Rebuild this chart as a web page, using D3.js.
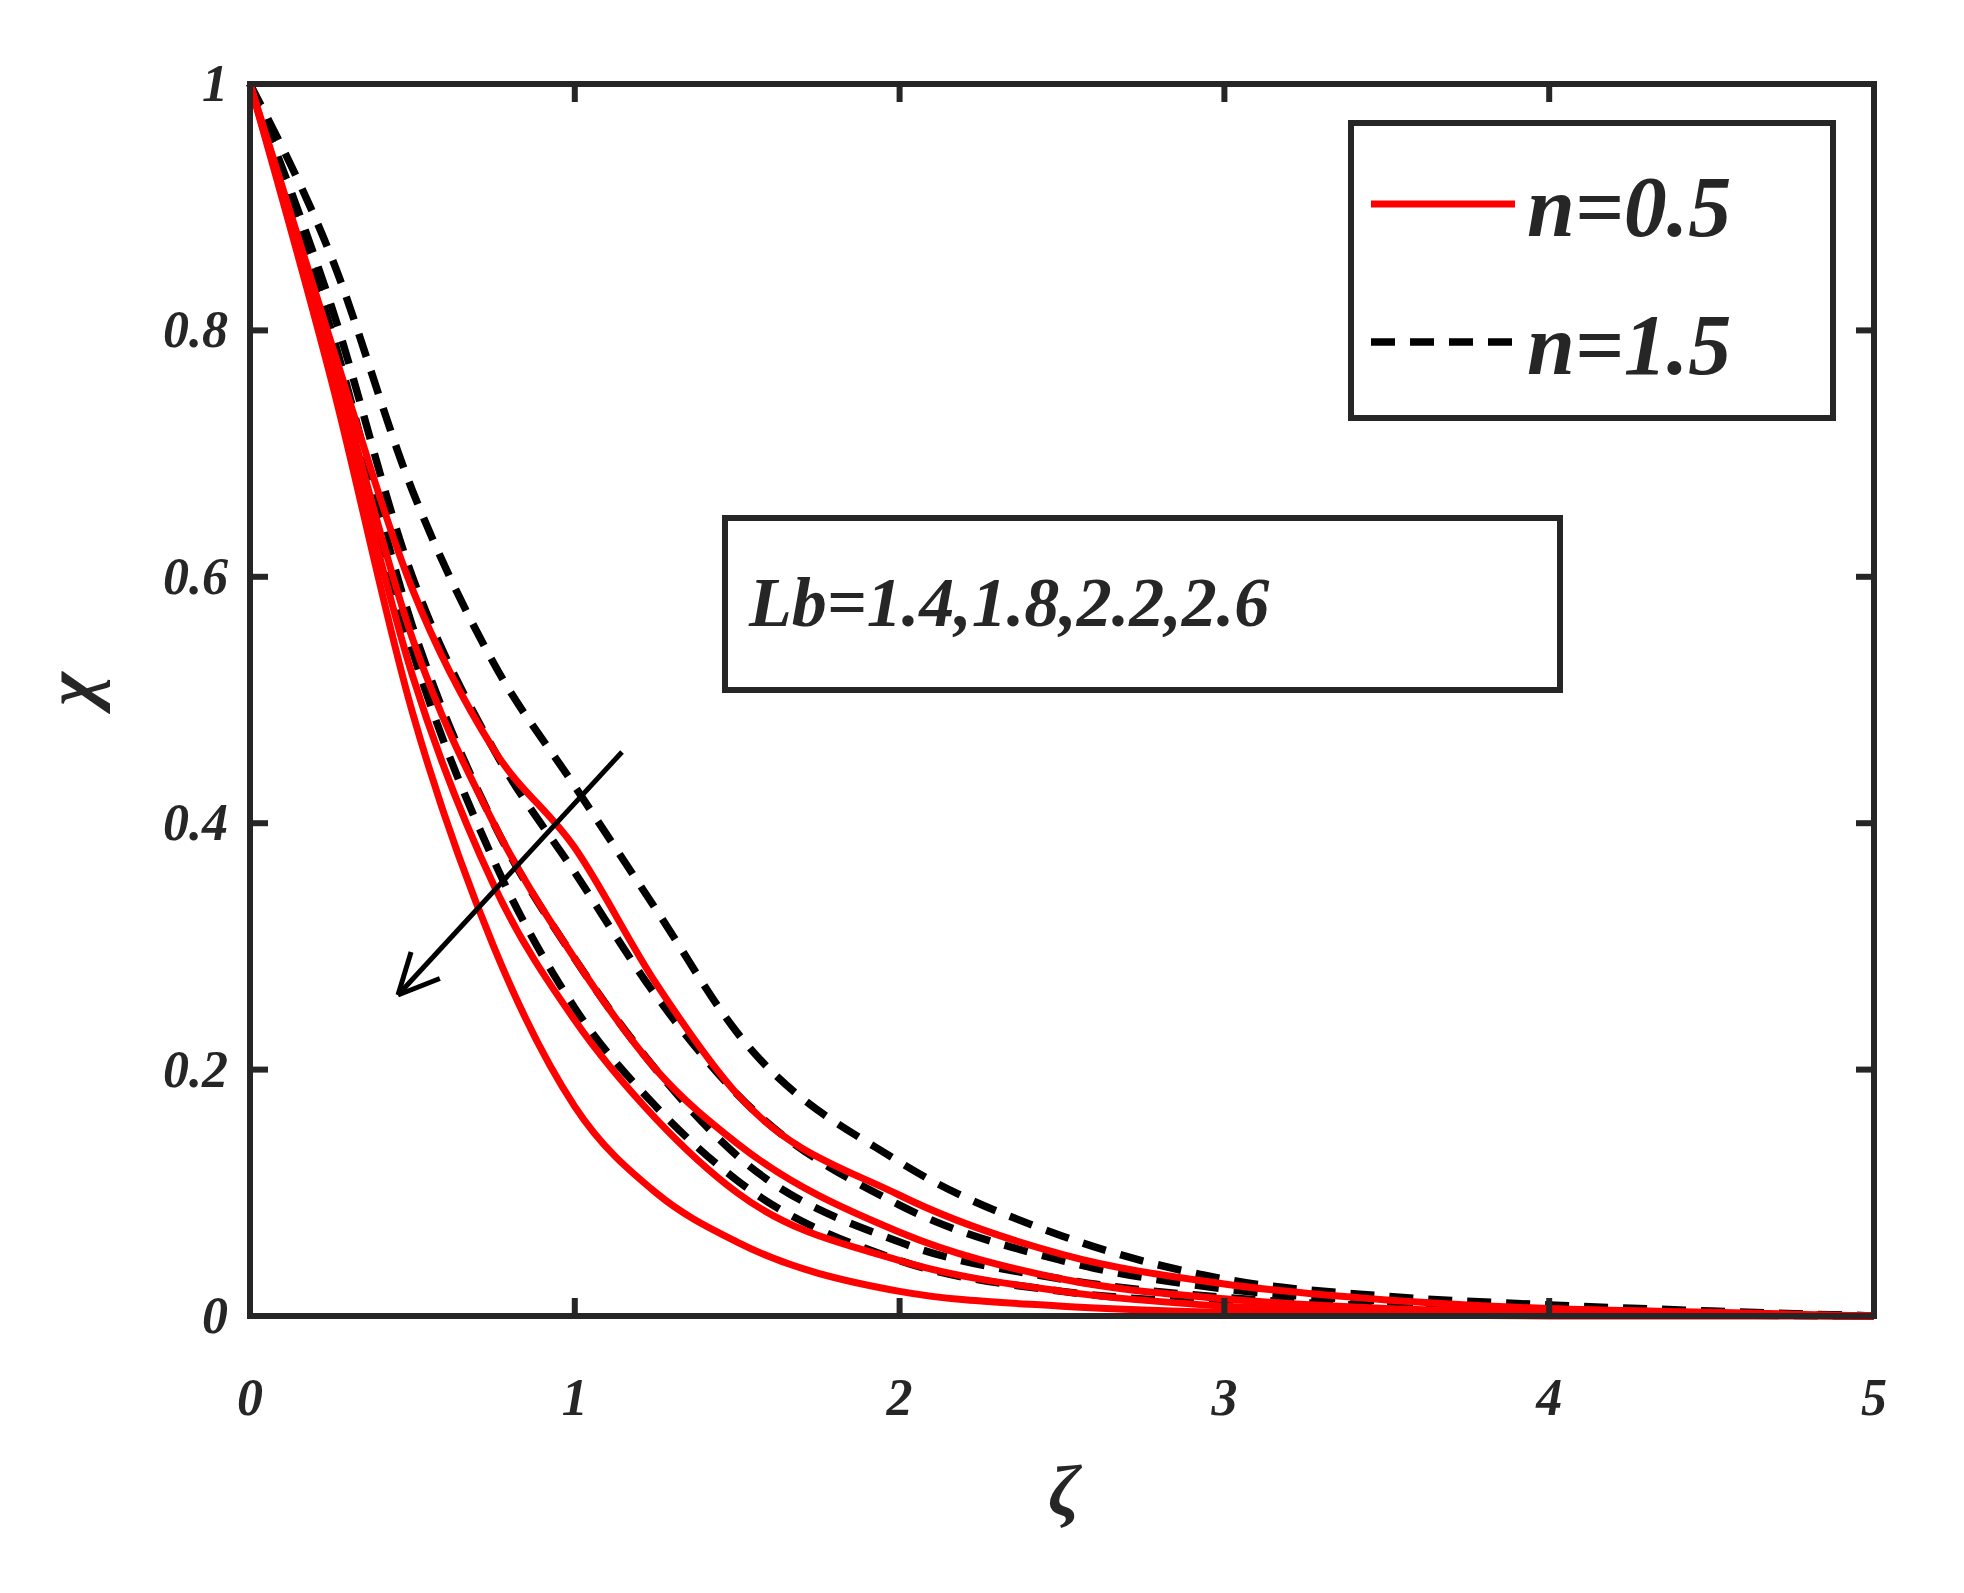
<!DOCTYPE html>
<html><head><meta charset="utf-8">
<script src="https://cdn.jsdelivr.net/npm/d3@7"></script>
<style>body{margin:0;background:#fff}text{font-family:"Liberation Serif","DejaVu Serif",serif;font-weight:bold;font-style:italic;fill:#262626}</style>
</head><body><svg id="c" width="1964" height="1593"></svg>
<script>
const zeta = [0, 0.25, 0.5, 0.75, 1, 1.25, 1.5, 2, 2.5, 3, 3.5, 4, 4.5, 5]
// n=0.5, Lb = 1.4, 1.8, 2.2, 2.6
const red = [
  [1, 0.79, 0.59, 0.46, 0.38, 0.27, 0.18, 0.098, 0.05, 0.026, 0.013, 0.006, 0.003, 0],
  [1, 0.78, 0.55, 0.40, 0.29, 0.20, 0.14, 0.068, 0.03, 0.014, 0.006, 0.003, 0.001, 0],
  [1, 0.77, 0.52, 0.35, 0.24, 0.16, 0.10, 0.045, 0.02, 0.008, 0.004, 0.002, 0.001, 0],
  [1, 0.76, 0.49, 0.30, 0.17, 0.10, 0.06, 0.02, 0.008, 0.003, 0.001, 0, 0, 0]
]
// n=1.5
const black = [
  [1, 0.86, 0.67, 0.53, 0.43, 0.33, 0.23, 0.125, 0.065, 0.03, 0.016, 0.009, 0.004, 0],
  [1, 0.82, 0.60, 0.46, 0.36, 0.26, 0.18, 0.09, 0.045, 0.022, 0.012, 0.006, 0.003, 0],
  [1, 0.80, 0.56, 0.40, 0.29, 0.20, 0.13, 0.06, 0.03, 0.015, 0.008, 0.005, 0.002, 0],
  [1, 0.79, 0.54, 0.37, 0.25, 0.17, 0.11, 0.045, 0.02, 0.01, 0.005, 0.003, 0.001, 0]
]
const xTicks = [0, 1, 2, 3, 4, 5]
const yTicks = [0, 0.2, 0.4, 0.6, 0.8, 1]

const svg = d3.select('#c')
const L = 250, R = 1874, T = 84, B = 1316
const x = d3.scaleLinear().domain([0, 5]).range([L, R])
const y = d3.scaleLinear().domain([0, 1]).range([B, T])
const line = d3.line().x((d, i) => x(zeta[i])).y(d => y(d)).curve(d3.curveMonotoneX)

const plot = svg.append('g')
black.forEach(s => plot.append('path').attr('d', line(s)).attr('fill', 'none')
  .attr('stroke', '#000').attr('stroke-width', 7.5).attr('stroke-dasharray', '24,15'))
red.forEach(s => plot.append('path').attr('d', line(s)).attr('fill', 'none')
  .attr('stroke', '#ff0000').attr('stroke-width', 7))

// frame + ticks
const ax = '#262626'
svg.append('rect').attr('x', L).attr('y', T).attr('width', R - L).attr('height', B - T)
  .attr('fill', 'none').attr('stroke', ax).attr('stroke-width', 6)
const tk = 18
xTicks.forEach(t => {
  svg.append('line').attr('x1', x(t)).attr('x2', x(t)).attr('y1', B).attr('y2', B - tk).attr('stroke', ax).attr('stroke-width', 6)
  svg.append('line').attr('x1', x(t)).attr('x2', x(t)).attr('y1', T).attr('y2', T + tk).attr('stroke', ax).attr('stroke-width', 6)
  svg.append('text').attr('x', x(t)).attr('y', 1415).attr('text-anchor', 'middle').attr('font-size', 52).text(t)
})
yTicks.forEach(t => {
  svg.append('line').attr('x1', L).attr('x2', L + tk).attr('y1', y(t)).attr('y2', y(t)).attr('stroke', ax).attr('stroke-width', 6)
  svg.append('line').attr('x1', R).attr('x2', R - tk).attr('y1', y(t)).attr('y2', y(t)).attr('stroke', ax).attr('stroke-width', 6)
  svg.append('text').attr('x', 228).attr('y', y(t) + 17).attr('text-anchor', 'end').attr('font-size', 52).text(t)
})
svg.append('text').attr('transform', 'translate(95,689) rotate(-90)').attr('text-anchor', 'middle').attr('font-size', 72).text('χ')
svg.append('text').attr('x', 1064).attr('y', 1515).attr('text-anchor', 'middle').attr('font-size', 72).text('ζ')

// legend
svg.append('rect').attr('x', 1351).attr('y', 123).attr('width', 482).attr('height', 295)
  .attr('fill', '#fff').attr('stroke', ax).attr('stroke-width', 6)
svg.append('line').attr('x1', 1371).attr('x2', 1515).attr('y1', 204).attr('y2', 204).attr('stroke', '#ff0000').attr('stroke-width', 7)
svg.append('line').attr('x1', 1371).attr('x2', 1515).attr('y1', 342).attr('y2', 342).attr('stroke', '#000').attr('stroke-width', 7.5).attr('stroke-dasharray', '24,15')
svg.append('text').attr('x', 1527).attr('y', 236).attr('font-size', 86).attr('fill', '#000').text('n=0.5')
svg.append('text').attr('x', 1527).attr('y', 374).attr('font-size', 86).attr('fill', '#000').text('n=1.5')

// Lb annotation
svg.append('rect').attr('x', 725).attr('y', 518).attr('width', 835).attr('height', 172)
  .attr('fill', '#fff').attr('stroke', ax).attr('stroke-width', 6)
svg.append('text').attr('x', 749).attr('y', 626).attr('font-size', 70).attr('fill', '#000').text('Lb=1.4,1.8,2.2,2.6')

// arrow
const ax1 = 622, ay1 = 752, ax2 = 398, ay2 = 995
svg.append('line').attr('x1', ax1).attr('y1', ay1).attr('x2', ax2).attr('y2', ay2).attr('stroke', '#000').attr('stroke-width', 5)
const ang = Math.atan2(ay2 - ay1, ax2 - ax1)
;[0.45, -0.45].forEach(a => {
  svg.append('line').attr('x1', ax2).attr('y1', ay2)
    .attr('x2', ax2 - 45 * Math.cos(ang + a)).attr('y2', ay2 - 45 * Math.sin(ang + a))
    .attr('stroke', '#000').attr('stroke-width', 5)
})
</script></body></html>
